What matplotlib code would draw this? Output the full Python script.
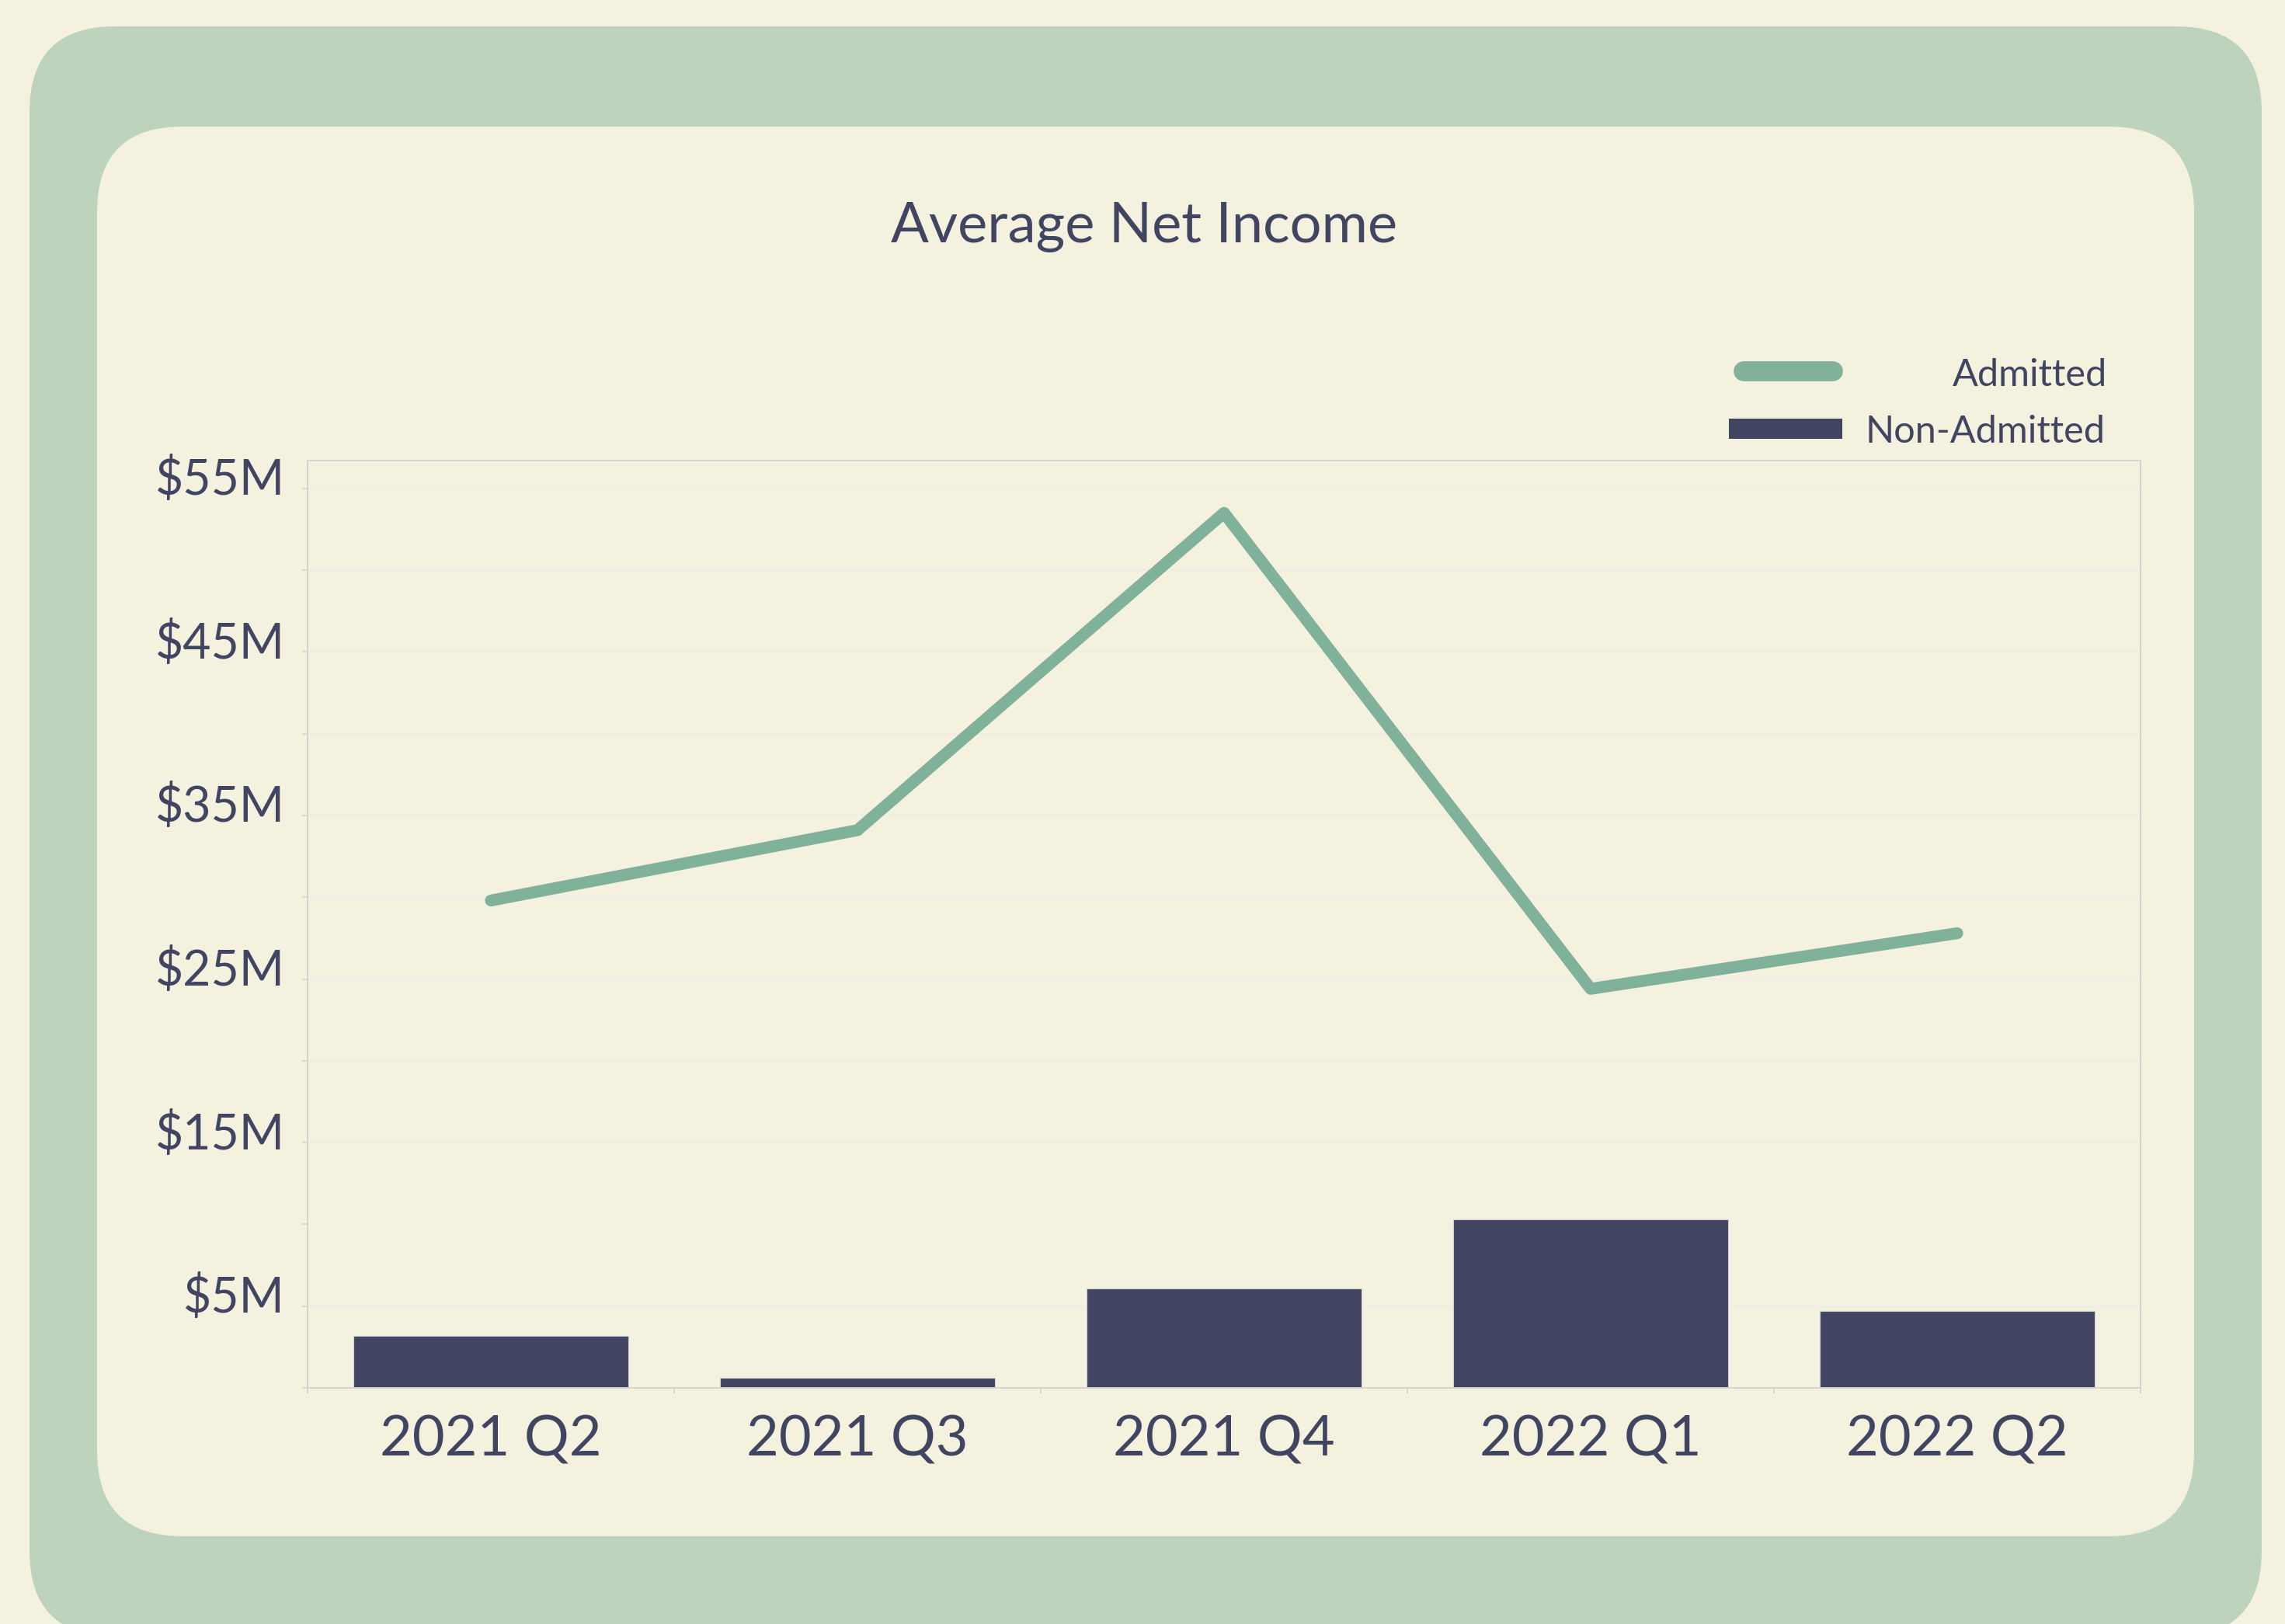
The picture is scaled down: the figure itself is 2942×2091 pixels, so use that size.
import matplotlib.pyplot as plt
from matplotlib.lines import Line2D
from matplotlib.patches import FancyBboxPatch, Rectangle
from matplotlib.transforms import ScaledTranslation

# data (values in $M)
quarters = ["2021 Q2", "2021 Q3", "2021 Q4", "2022 Q1", "2022 Q2"]
admitted = [29.8, 34.1, 53.5, 24.4, 27.8]
non_admitted = [3.2, 0.6, 6.1, 10.3, 4.7]
y_ticks = [0, 5, 10, 15, 20, 25, 30, 35, 40, 45, 50, 55]
y_labels = ["", "$5M", "", "$15M", "", "$25M", "", "$35M", "", "$45M", "", "$55M"]

cream = "#F4F1DF"
sage = "#BED3BE"
green = "#80B19A"
navy = "#414561"
spine = "#D4D4D0"

plt.rcParams["font.family"] = ["Lato", "DejaVu Sans"]

fig = plt.figure(figsize=(29.42, 20.91), dpi=100, facecolor=cream)
inch = fig.dpi_scale_trans

# rounded frames (positions in inches from bottom-left)
fig.add_artist(FancyBboxPatch((0.38, -0.16), 28.74, 20.73, boxstyle="round,pad=0,rounding_size=1.1",
                              transform=inch, facecolor=sage, edgecolor="none", zorder=-2))
fig.add_artist(FancyBboxPatch((1.25, 1.13), 27.0, 18.15, boxstyle="round,pad=0,rounding_size=1.1",
                              transform=inch, facecolor=cream, edgecolor="none", zorder=-1))

ax = fig.add_axes([396 / 2942, 1 - 1787 / 2091, (2756 - 396) / 2942, (1787 - 593) / 2091])
ax.set_facecolor("none")

x = range(len(quarters))
ax.bar(x, non_admitted, width=0.75, color=navy, edgecolor="#CFCFCF", linewidth=0.8, zorder=2)
ax.plot(x, admitted, color=green, linewidth=11, solid_capstyle="round", solid_joinstyle="round", zorder=3)

ax.set_xlim(-0.5, len(quarters) - 0.5)
ax.set_ylim(0, 56.7)
ax.set_xticks(list(x))
ax.set_xticklabels(quarters)
ax.set_xticks([i - 0.5 for i in range(len(quarters) + 1)], minor=True)
ax.set_yticks(y_ticks)
ax.set_yticklabels(y_labels)
ax.grid(axis="y", color="#EFEDE6", linewidth=1.5, zorder=0)

ax.tick_params(axis="x", which="major", length=0, pad=25, labelsize=52, labelcolor=navy)
ax.tick_params(axis="x", which="minor", length=5, width=1.2, color=spine)
ax.tick_params(axis="y", length=5, width=1.2, color=spine, pad=16, labelsize=45, labelcolor=navy)
for s in ax.spines.values():
    s.set_color(spine)
    s.set_linewidth(1.4)

# y labels sit a little above their gridlines in the original
shift = ScaledTranslation(0, 0.16, inch)
for lab in ax.get_yticklabels():
    lab.set_transform(lab.get_transform() + shift)

fig.text(14.73, 17.79, "Average Net Income", transform=inch, ha="center", va="baseline",
         fontsize=52, color=navy)

# legend, drawn by hand so labels right-align like the original
fig.add_artist(Line2D([22.45, 23.60], [16.13, 16.13], transform=inch, color=green,
                      linewidth=18.5, solid_capstyle="round"))
fig.add_artist(Rectangle((22.26, 15.26), 1.46, 0.26, transform=inch, facecolor=navy, edgecolor="none"))
fig.text(27.13, 15.94, "Admitted", transform=inch, ha="right", va="baseline", fontsize=35, color=navy)
fig.text(27.10, 15.21, "Non-Admitted", transform=inch, ha="right", va="baseline", fontsize=35, color=navy)

fig.savefig("out.png", dpi=100, facecolor=cream)
